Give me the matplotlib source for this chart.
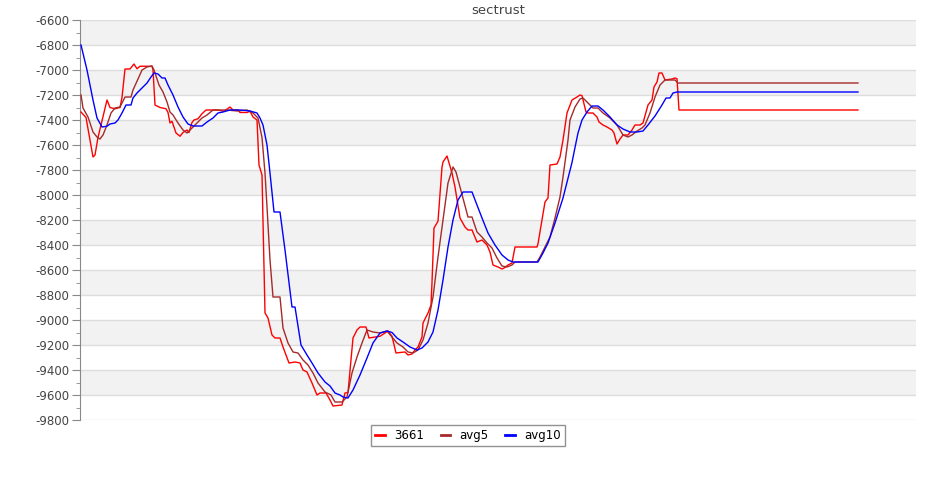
import numpy as np
import matplotlib
matplotlib.use("Agg")
import matplotlib.pyplot as plt
from matplotlib.ticker import MultipleLocator

plt.rcParams["axes.unicode_minus"] = False

# series 3661 (raw)
t_raw = [1, 6, 13, 15, 18, 27, 30, 35, 40, 42, 45, 50, 54, 57, 60, 72, 73, 75, 80, 86,
         88, 90, 92, 96, 100, 103, 107, 109, 112, 114, 118, 122, 126, 137, 144, 150, 153, 158, 160, 167,
         170, 173, 177, 179, 182, 185, 188, 192, 195, 200, 203, 209, 215, 220, 223, 227, 232, 237, 240, 246,
         250, 253, 262, 265, 268, 273, 277, 280, 286, 289, 295, 300, 305, 308, 312, 316, 320, 325, 328, 332,
         335, 338, 342, 343, 348, 351, 352, 354, 358, 362, 363, 367, 372, 375, 380, 385, 388, 392, 397, 402,
         407, 410, 413, 418, 422, 425, 428, 432, 435, 457, 458, 462, 465, 468, 470, 477, 480, 483, 487, 492,
         497, 500, 502, 506, 508, 513, 517, 519, 523, 527, 532, 534, 537, 540, 543, 548, 552, 555, 560, 563,
         566, 568, 572, 574, 577, 579, 582, 585, 592, 595, 597, 599, 778]
v_raw = [-7336, -7380, -7696, -7680, -7540, -7240, -7300, -7310, -7300, -7220, -6992, -6992, -6952, -6990, -6970, -6970, -7000, -7280, -7300, -7310,
         -7340, -7424, -7410, -7504, -7530, -7500, -7480, -7500, -7420, -7400, -7390, -7350, -7320, -7320, -7330, -7296, -7320, -7320, -7340, -7340,
         -7330, -7376, -7400, -7760, -7840, -8944, -8984, -9120, -9144, -9144, -9216, -9344, -9336, -9344, -9400, -9416, -9504, -9600, -9584, -9584,
         -9640, -9688, -9680, -9584, -9580, -9144, -9080, -9056, -9056, -9144, -9136, -9130, -9104, -9088, -9130, -9264, -9260, -9256, -9280, -9272,
         -9240, -9216, -9136, -9024, -8944, -8880, -8700, -8264, -8210, -7776, -7736, -7688, -7824, -7936, -8184, -8256, -8280, -8280, -8376, -8360,
         -8400, -8456, -8560, -8576, -8592, -8580, -8560, -8544, -8416, -8416, -8390, -8200, -8056, -8024, -7760, -7752, -7696, -7560, -7344, -7240,
         -7216, -7200, -7205, -7336, -7344, -7344, -7376, -7416, -7440, -7456, -7480, -7504, -7592, -7552, -7520, -7520, -7480, -7440, -7440, -7424,
         -7336, -7280, -7240, -7136, -7096, -7024, -7024, -7080, -7072, -7064, -7070, -7320, -7320]

# avg5
t_avg5 = [1, 3, 8, 13, 17, 20, 23, 27, 31, 35, 40, 45, 51, 53, 58, 62, 67, 72, 74, 79,
          83, 87, 90, 93, 98, 103, 107, 112, 117, 122, 127, 133, 147, 157, 167, 173, 178, 182, 185, 187,
          190, 193, 200, 203, 208, 213, 218, 223, 228, 233, 238, 245, 251, 255, 262, 267, 272, 277, 282, 287,
          293, 300, 307, 312, 317, 323, 328, 333, 338, 343, 348, 353, 358, 363, 368, 373, 376, 380, 384, 388,
          392, 397, 402, 407, 412, 417, 422, 427, 432, 435, 457, 460, 465, 470, 475, 480, 483, 488, 490, 495,
          500, 503, 508, 513, 518, 523, 530, 537, 543, 548, 552, 557, 562, 565, 570, 575, 580, 585, 595, 598,
          778]
v_avg5 = [-7200, -7304, -7376, -7496, -7536, -7552, -7520, -7440, -7344, -7304, -7296, -7216, -7216, -7160, -7072, -7000, -6976, -6968, -7000, -7120,
          -7176, -7256, -7336, -7360, -7424, -7480, -7504, -7464, -7424, -7384, -7360, -7320, -7320, -7328, -7320, -7344, -7384, -7540, -7824, -8096,
          -8520, -8816, -8816, -9064, -9184, -9256, -9264, -9320, -9360, -9424, -9504, -9576, -9600, -9656, -9656, -9616, -9424, -9296, -9184, -9080,
          -9096, -9104, -9088, -9136, -9184, -9216, -9256, -9264, -9240, -9160, -9024, -8816, -8496, -8200, -7904, -7776, -7816, -7936, -8056, -8176,
          -8176, -8296, -8336, -8384, -8424, -8504, -8568, -8576, -8560, -8536, -8536, -8496, -8416, -8336, -8184, -8016, -7856, -7560, -7400, -7296,
          -7232, -7224, -7264, -7304, -7304, -7344, -7384, -7440, -7520, -7536, -7520, -7488, -7464, -7440, -7344, -7216, -7120, -7080, -7080, -7104,
          -7104]

# avg10
t_avg10 = [1, 7, 13, 17, 22, 27, 30, 35, 38, 42, 46, 51, 53, 57, 62, 67, 71, 74, 78, 82,
           85, 88, 93, 98, 103, 108, 113, 118, 122, 127, 133, 138, 143, 150, 160, 170, 177, 180, 183, 187,
           190, 194, 200, 205, 212, 215, 221, 227, 232, 238, 245, 250, 255, 260, 263, 268, 273, 280, 287, 293,
           300, 307, 312, 317, 323, 330, 337, 342, 348, 353, 358, 363, 368, 373, 378, 383, 392, 397, 402, 408,
           415, 422, 428, 433, 458, 463, 468, 475, 483, 492, 495, 498, 502, 507, 512, 518, 523, 530, 537, 543,
           550, 557, 563, 568, 575, 582, 586, 590, 593, 597, 778]
v_avg10 = [-6800, -7000, -7240, -7384, -7456, -7450, -7432, -7424, -7400, -7344, -7280, -7280, -7224, -7184, -7144, -7104, -7056, -7024, -7032, -7064,
           -7064, -7120, -7200, -7296, -7376, -7432, -7448, -7448, -7448, -7416, -7384, -7344, -7336, -7320, -7320, -7328, -7344, -7384, -7440, -7600,
           -7824, -8136, -8136, -8440, -8896, -8896, -9200, -9280, -9344, -9424, -9496, -9528, -9584, -9600, -9616, -9624, -9560, -9440, -9304, -9184,
           -9104, -9088, -9100, -9144, -9176, -9216, -9240, -9224, -9176, -9096, -8920, -8680, -8416, -8200, -8040, -7976, -7976, -8080, -8184, -8304,
           -8400, -8480, -8520, -8536, -8536, -8464, -8384, -8224, -8024, -7740, -7620, -7504, -7400, -7336, -7288, -7288, -7320, -7376, -7440, -7472,
           -7496, -7496, -7488, -7440, -7368, -7280, -7224, -7224, -7184, -7176, -7176]

y_ticks = np.arange(-9800, -6599, 200)

fig = plt.figure(figsize=(9.35, 5.0), dpi=100)
ax = fig.add_axes([80 / 935, 1 - 420 / 500, 836 / 935, 400 / 500])

# alternating bands, top band shaded
for i, lo in enumerate(y_ticks[:-1]):
    if (len(y_ticks) - 2 - i) % 2 == 0:
        ax.axhspan(lo, lo + 200, color="#f2f2f2", zorder=0, lw=0)
for y in y_ticks:
    ax.axhline(y, color="#dddddd", lw=1, zorder=1)

ax.plot(t_raw, v_raw, color="#ff0000", lw=1, label="3661", zorder=3)
ax.plot(t_avg5, v_avg5, color="#a52a2a", lw=1, label="avg5", zorder=3)
ax.plot(t_avg10, v_avg10, color="#0000ff", lw=1, label="avg10", zorder=3)

ax.set_xlim(0, 836)
ax.set_ylim(-9800, -6600)
ax.set_yticks(y_ticks)
ax.yaxis.set_minor_locator(MultipleLocator(100))
ax.tick_params(axis="y", which="major", length=6, pad=1.5, color="#888888", labelsize=8.5, labelcolor="#444444")
ax.tick_params(axis="y", which="minor", length=3, color="#888888")
ax.set_xticks([])
for s in ["top", "right", "bottom"]:
    ax.spines[s].set_visible(False)
ax.spines["left"].set_color("#888888")

ax.set_title("sectrust", fontsize=9.5, color="#444444", pad=4)

leg = fig.legend(loc="center", bbox_to_anchor=(468 / 935, 1 - 435.5 / 500), ncol=3,
                 fontsize=8.5, frameon=True, fancybox=False, handlelength=0.8,
                 columnspacing=1.4, borderpad=0.35, handletextpad=0.8)
leg.get_frame().set_edgecolor("#777777")
leg.get_frame().set_linewidth(1)
for line in leg.get_lines():
    line.set_linewidth(2)

fig.savefig("out.png", dpi=100)
